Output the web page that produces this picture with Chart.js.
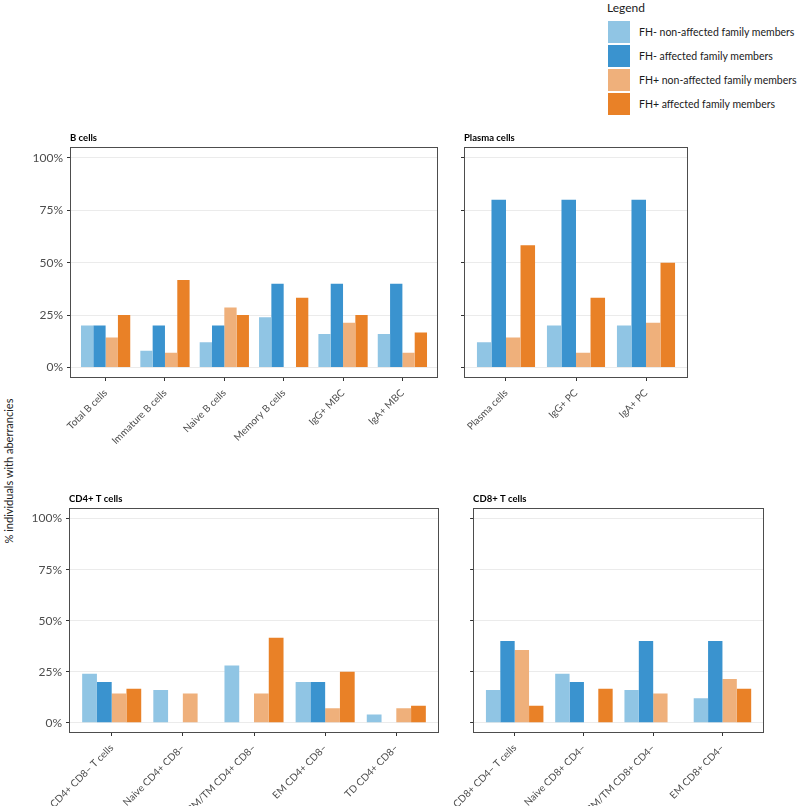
<!DOCTYPE html>
<html>
<head>
<meta charset="utf-8">
<script src="https://cdn.jsdelivr.net/npm/chart.js@4"></script>
<style>
  body { margin: 0; width: 800px; height: 806px; overflow: hidden; background: #fff; position: relative; font-family: Lato, sans-serif; }
  canvas { position: absolute; }
  #ytitle { position: absolute; left: 8px; top: 471px; transform: translate(-50%, -50%) rotate(-90deg); white-space: nowrap; font-size: 11px; color: #222; }
  #legend { position: absolute; left: 607px; top: 0; color: #1a1a1a; white-space: nowrap; }
  #legend .head { font-size: 12px; height: 20px; line-height: 16px; }
  #legend .row { height: 24px; display: flex; align-items: center; font-size: 10.5px; }
  #legend .key { width: 22px; height: 22px; margin-right: 9px; margin-left: 1px; flex: none; }
</style>
</head>
<body>
<div id="ytitle">% individuals with aberrancies</div>
<div id="legend"><div class="head">Legend</div></div>
<canvas id="bcells" width="412" height="316" style="left:30px;top:132px"></canvas>
<canvas id="plasma" width="240" height="316" style="left:452px;top:132px"></canvas>
<canvas id="cd4" width="414" height="320" style="left:29px;top:493px"></canvas>
<canvas id="cd8" width="323" height="320" style="left:445px;top:493px"></canvas>
<script>
const seriesNames = ['FH- non-affected family members', 'FH- affected family members', 'FH+ non-affected family members', 'FH+ affected family members'];
const seriesColors = ['#90c5e4', '#3a93cf', '#efb07b', '#e98127'];
const yTicks = [0, 25, 50, 75, 100];

// B cells
const bLabels = ['Total B cells', 'Immature B cells', 'Naive B cells', 'Memory B cells', 'IgG+ MBC', 'IgA+ MBC'];
const bFhNeg = [20, 8, 12, 24, 16, 16];
const bFhNegAff = [20, 20, 20, 40, 40, 40];
const bFhPos = [14.3, 7.1, 28.6, 0, 21.4, 7.1];
const bFhPosAff = [25, 41.7, 25, 33.3, 25, 16.7];

// Plasma cells
const pcLabels = ['Plasma cells', 'IgG+ PC', 'IgA+ PC'];
const pcFhNeg = [12, 20, 20];
const pcFhNegAff = [80, 80, 80];
const pcFhPos = [14.3, 7.1, 21.4];
const pcFhPosAff = [58.3, 33.3, 50];

// CD4+ T cells
const cd4Labels = ['CD4+ CD8– T cells', 'Naive CD4+ CD8–', 'CM/TM CD4+ CD8–', 'EM CD4+ CD8–', 'TD CD4+ CD8–'];
const cd4FhNeg = [24, 16, 28, 20, 4];
const cd4FhNegAff = [20, 0, 0, 20, 0];
const cd4FhPos = [14.3, 14.3, 14.3, 7.1, 7.1];
const cd4FhPosAff = [16.7, 0, 41.7, 25, 8.3];

// CD8+ T cells
const cd8Labels = ['CD8+ CD4– T cells', 'Naive CD8+ CD4–', 'CM/TM CD8+ CD4–', 'EM CD8+ CD4–'];
const cd8FhNeg = [16, 24, 16, 12];
const cd8FhNegAff = [40, 20, 40, 40];
const cd8FhPos = [35.7, 0, 14.3, 21.4];
const cd8FhPosAff = [8.3, 16.7, 0, 16.7];

// legend
const legendEl = document.getElementById('legend');
seriesNames.forEach((name, k) => {
    const row = document.createElement('div');
    row.className = 'row';
    row.innerHTML = '<div class="key" style="background:' + seriesColors[k] + '"></div><span>' + name + '</span>';
    legendEl.appendChild(row);
});

// panel frame
const boxPlugin = {
    id: 'box',
    afterDraw(chart) {
        const a = chart.chartArea;
        const ctx = chart.ctx;
        ctx.save();
        ctx.strokeStyle = '#4d4d4d';
        ctx.lineWidth = 1;
        ctx.strokeRect(Math.round(a.left) + 0.5, Math.round(a.top) + 0.5, Math.round(a.right - a.left) - 1, Math.round(a.bottom - a.top) - 1);
        ctx.restore();
    }
};

function makePanel(id, title, labels, values, showY, yWidth, xHeight) {
    const datasets = values.map((v, k) => ({
        label: seriesNames[k],
        backgroundColor: seriesColors[k],
        data: v.map((y, i) => ({ x: i, y: y })),
        categoryPercentage: 0.83,
        barPercentage: 1
    }));
    return new Chart(document.getElementById(id), {
        type: 'bar',
        data: { datasets: datasets },
        options: {
            responsive: false,
            animation: false,
            layout: { padding: { left: 0, right: 4, top: 0, bottom: 0 } },
            plugins: {
                legend: { display: false },
                tooltip: { enabled: false },
                title: {
                    display: true,
                    text: title,
                    align: 'start',
                    fullSize: false,
                    color: '#000',
                    font: { family: 'Lato', size: 9.5, weight: 'bold' },
                    padding: { top: 0, bottom: 4 }
                }
            },
            scales: {
                x: {
                    type: 'linear',
                    min: -0.6,
                    max: labels.length - 0.4,
                    offset: false,
                    afterBuildTicks: ax => { ax.ticks = labels.map((l, i) => ({ value: i })); },
                    afterFit: ax => { ax.height = xHeight; },
                    grid: { drawOnChartArea: false, drawTicks: true, tickLength: 3, tickColor: '#333', offset: false },
                    border: { display: false },
                    ticks: {
                        autoSkip: false,
                        minRotation: 45,
                        maxRotation: 45,
                        padding: 6,
                        color: '#4d4d4d',
                        font: { family: 'Lato', size: 10 },
                        callback: v => labels[v]
                    }
                },
                y: {
                    min: -5,
                    max: 105,
                    afterBuildTicks: ax => { ax.ticks = yTicks.map(v => ({ value: v })); },
                    afterFit: ax => { ax.width = yWidth; },
                    grid: { color: '#ebebeb', tickColor: '#333', tickLength: 3 },
                    border: { display: false },
                    ticks: {
                        display: showY,
                        padding: 4,
                        color: '#4d4d4d',
                        font: { family: 'Lato', size: 12 },
                        callback: v => v + '%'
                    }
                }
            }
        },
        plugins: [boxPlugin]
    });
}

makePanel('bcells', 'B cells', bLabels, [bFhNeg, bFhNegAff, bFhPos, bFhPosAff], true, 40, 70);
makePanel('plasma', 'Plasma cells', pcLabels, [pcFhNeg, pcFhNegAff, pcFhPos, pcFhPosAff], false, 12, 70);
makePanel('cd4', 'CD4+ T cells', cd4Labels, [cd4FhNeg, cd4FhNegAff, cd4FhPos, cd4FhPosAff], true, 40, 80);
makePanel('cd8', 'CD8+ T cells', cd8Labels, [cd8FhNeg, cd8FhNegAff, cd8FhPos, cd8FhPosAff], false, 12, 80);
</script>
</body>
</html>
